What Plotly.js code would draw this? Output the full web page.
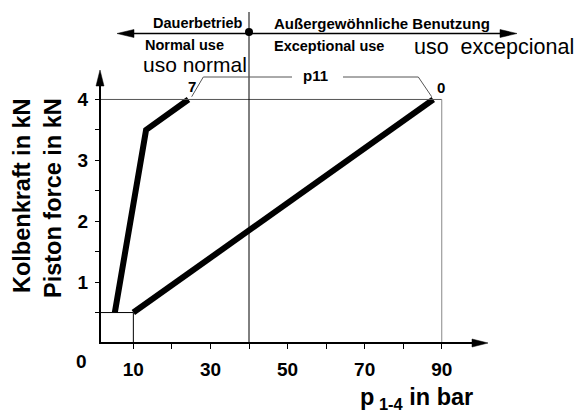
<!DOCTYPE html>
<html>
<head>
<meta charset="utf-8">
<script src="https://cdn.plot.ly/plotly-3.0.1.min.js"></script>
<style>html,body{margin:0;padding:0;background:#fff;}#chart{width:574px;height:415px;}</style>
</head>
<body>
<div id="chart"></div>
<script>
// ---- data ----
const curveNames = ['7', '0'];
const curve7X = [5.2, 13.3, 24.3];
const curve7Y = [0.5, 3.5, 4.0];
const curve0X = [10, 87.8];
const curve0Y = [0.5, 4.0];
const xTickVals = [10, 30, 50, 70, 90];
const xTickText = ['10', '30', '50', '70', '90'];
const xMinorVals = [20, 40, 60, 80];
const yTickVals = [1, 2, 3, 4];
const yTickText = ['1', '2', '3', '4'];
const yMinorVals = [0.5, 1.5, 2.5, 3.5];
const xLimit = 90, yLimit = 4, yLow = 0.5, xLow = 10, xSplit = 40;

// ---- layout geometry ----
const W = 574, H = 415, ML = 91, MR = 50, MT = 8, MB = 63;
const PW = W - ML - MR, PH = H - MT - MB;
const kx = 3.855, ky = 60.886;           // px per unit
const AXX = 100, AXY = 343;              // page position of the axes corner
const xAt0 = AXX - 1.35 * kx;            // page px of x = 0
const X0 = (ML - xAt0) / kx, X1 = (W - MR - xAt0) / kx;
const Y0 = -(H - MB - AXY) / ky, Y1 = (AXY - MT) / ky;
const P = px => (px - ML) / PW;          // page px -> paper x
const Q = py => (H - MB - py) / PH;      // page py -> paper y
const DX = px => (px - xAt0) / kx;       // page px -> data x
const DY = py => (AXY - py) / ky;        // page py -> data y
const XA = DX(AXX);                      // data x of y-axis line

const FONT = 'Liberation Sans, Arial, Helvetica, sans-serif';

function arrow(xt, yt, dir, len, half) {
  let pts;
  if (dir === 'r') pts = [[xt, yt], [xt - len / kx, yt + half / ky], [xt - len / kx, yt - half / ky]];
  if (dir === 'l') pts = [[xt, yt], [xt + len / kx, yt + half / ky], [xt + len / kx, yt - half / ky]];
  if (dir === 'u') pts = [[xt, yt], [xt - half / kx, yt - len / ky], [xt + half / kx, yt - len / ky]];
  return {type: 'path', xref: 'x', yref: 'y', fillcolor: '#000', line: {width: 0.5, color: '#000'},
    path: 'M' + pts.map(p => p[0] + ',' + p[1]).join('L') + 'Z'};
}
function seg(x0, y0, x1, y1, color, width) {
  return {type: 'line', xref: 'x', yref: 'y', x0, y0, x1, y1, line: {color: color, width: width}};
}

const xAxisEnd = DX(488);
const yAxisEnd = DY(70);
const topY = DY(33.5);
const topL = DX(117), topR = DX(517);

const shapes = [
  // reference lines
  seg(XA, yLimit, xLimit, yLimit, '#555', 1),
  seg(xLimit, 0, xLimit, yLimit, '#888', 1),
  seg(XA, yLow, xLow, yLow, '#000', 1),
  seg(xLow, 0, xLow, yLow, '#000', 1),
  seg(xSplit, 0, xSplit, DY(12), '#000', 1),
  // axes
  seg(XA - 1 / kx, 0, xAxisEnd - 10 / kx, 0, '#000', 2),
  seg(XA, -1 / ky, XA, yAxisEnd - 10 / ky, '#000', 2),
  arrow(xAxisEnd, 0, 'r', 16, 4),
  arrow(XA, yAxisEnd, 'u', 16, 4),
  // top double arrow
  seg(topL + 10 / kx, topY, topR - 10 / kx, topY, '#000', 1.5),
  arrow(topL, topY, 'l', 17, 4),
  arrow(topR, topY, 'r', 17, 4),
  {type: 'circle', xref: 'x', yref: 'y', xsizemode: 'pixel', ysizemode: 'pixel',
   xanchor: xSplit, yanchor: DY(32), x0: -4, x1: 4, y0: -4, y1: 4,
   fillcolor: '#000', line: {color: '#000', width: 0}},
  // leader lines for curve labels
  {type: 'path', xref: 'x', yref: 'y', line: {color: '#555', width: 1},
   path: 'M' + DX(191.7) + ',' + DY(96.7) + 'L' + DX(203.3) + ',' + DY(77) + 'L' + DX(292) + ',' + DY(77)},
  {type: 'path', xref: 'x', yref: 'y', line: {color: '#555', width: 1},
   path: 'M' + DX(343) + ',' + DY(77) + 'L' + DX(418.3) + ',' + DY(77) + 'L' + DX(431.7) + ',' + DY(96.7)}
];

function txt(text, px, py, size, bold, xanchor) {
  return {text: text, xref: 'paper', yref: 'paper', x: P(px), y: Q(py),
    xanchor: xanchor || 'left', yanchor: 'middle', showarrow: false,
    font: {family: FONT, size: size, color: '#000', weight: bold ? 'bold' : 'normal'}};
}

const annotations = [
  txt('Dauerbetrieb', 151, 23.5, 14.5, true),
  txt('Außergewöhnliche Benutzung', 272, 23.5, 15, true),
  txt('Normal use', 142.5, 45.5, 14.5, true),
  txt('Exceptional use', 272, 46, 14.5, true),
  txt('uso normal', 141, 65, 21, false),
  txt('uso\u00a0 excepcional', 412, 47.5, 21.5, false),
  txt('p11', 315, 75.5, 15, true, 'center'),
  txt(curveNames[0], 191.5, 86.5, 15, true, 'center'),
  txt(curveNames[1], 441, 87.5, 15, true, 'center'),
  txt('0', 81, 361, 19, true, 'center'),
  txt('p<sub> 1-4</sub> in bar', 358, 398, 23.5, true),
  {text: 'Kolbenkraft in kN', xref: 'paper', yref: 'paper', x: P(22), y: Q(196), textangle: -90,
   xanchor: 'center', yanchor: 'middle', showarrow: false,
   font: {family: FONT, size: 23.5, color: '#000', weight: 'bold'}},
  {text: 'Piston force in kN', xref: 'paper', yref: 'paper', x: P(53), y: Q(198), textangle: -90,
   xanchor: 'center', yanchor: 'middle', showarrow: false,
   font: {family: FONT, size: 23.5, color: '#000', weight: 'bold'}}
];

const traces = [
  {x: curve7X, y: curve7Y, name: curveNames[0], mode: 'lines', type: 'scatter',
   line: {color: '#000', width: 6}, hoverinfo: 'skip'},
  {x: curve0X, y: curve0Y, name: curveNames[1], mode: 'lines', type: 'scatter',
   line: {color: '#000', width: 6}, hoverinfo: 'skip'}
];

const layout = {
  width: W, height: H,
  margin: {l: ML, r: MR, t: MT, b: MB, pad: 0},
  paper_bgcolor: '#fff', plot_bgcolor: '#fff',
  showlegend: false,
  xaxis: {range: [X0, X1], showgrid: false, zeroline: false, showline: false,
    anchor: 'free', position: Q(AXY),
    tickmode: 'array', tickvals: xTickVals, ticktext: xTickText,
    ticks: 'outside', ticklen: 5, tickwidth: 1, tickcolor: '#000', ticklabelstandoff: 4,
    minor: {tickmode: 'array', tickvals: xMinorVals, ticks: 'outside', ticklen: 5, tickwidth: 1,
            tickcolor: '#000', showgrid: false},
    tickfont: {family: FONT, size: 19, color: '#000', weight: 'bold'}},
  yaxis: {range: [Y0, Y1], showgrid: false, zeroline: false, showline: false,
    anchor: 'free', position: P(AXX),
    tickmode: 'array', tickvals: yTickVals, ticktext: yTickText,
    ticks: 'outside', ticklen: 5, tickwidth: 1, tickcolor: '#000', ticklabelstandoff: 3,
    minor: {tickmode: 'array', tickvals: yMinorVals, ticks: 'outside', ticklen: 5, tickwidth: 1,
            tickcolor: '#000', showgrid: false},
    tickfont: {family: FONT, size: 19, color: '#000', weight: 'bold'}},
  shapes: shapes,
  annotations: annotations
};

Plotly.newPlot('chart', traces, layout, {staticPlot: true, displayModeBar: false});
</script>
</body>
</html>
